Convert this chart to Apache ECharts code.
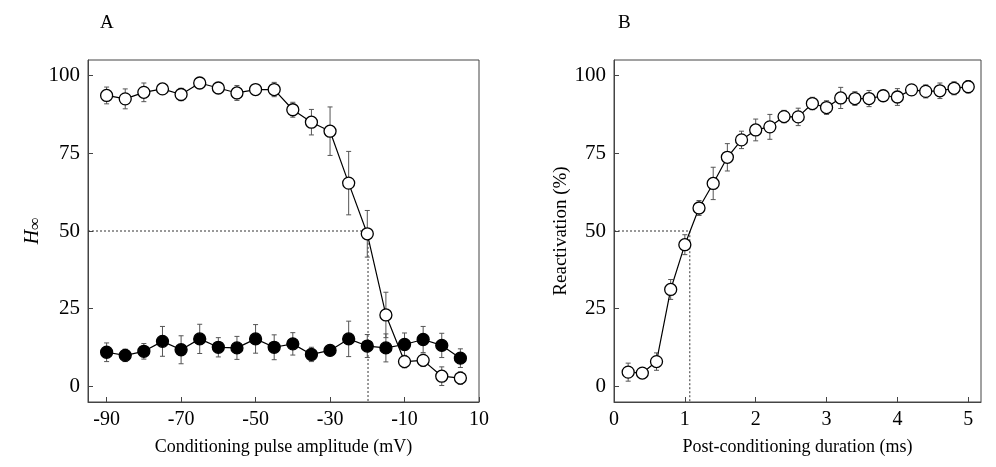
<!DOCTYPE html>
<html>
<head>
<meta charset="utf-8">
<script src="https://cdn.jsdelivr.net/npm/echarts@6/dist/echarts.min.js"></script>
<style>
  html, body { margin: 0; padding: 0; background: #fff; }
  #chart { width: 996px; height: 467px; }
</style>
</head>
<body>
<div id="chart"></div>
<script>
// panel A: conditioning pulse amplitude (mV)
var xA = [-90, -85, -80, -75, -70, -65, -60, -55, -50, -45, -40, -35, -30, -25, -20, -15, -10, -5, 0, 5];
var openA = [93.6, 92.5, 94.6, 95.7, 93.9, 97.6, 96.0, 94.4, 95.5, 95.5, 89.0, 85.0, 82.1, 65.4, 49.1, 23.0, 8.0, 8.4, 3.3, 2.7];
var openErrA = [2.7, 3.2, 3, 0.8, 2, 0.8, 0.8, 2.4, 0.8, 2.3, 2.4, 4.1, 7.8, 10.2, 7.5, 7.3, 2, 2, 3, 2];
var filledA = [11.0, 10.0, 11.3, 14.5, 11.8, 15.3, 12.6, 12.4, 15.3, 12.6, 13.7, 10.3, 11.6, 15.3, 13.0, 12.4, 13.5, 15.1, 13.2, 9.1];
var filledErrA = [3, 2, 2.5, 4.8, 4.5, 4.7, 3.1, 3.7, 4.6, 4, 3.6, 2.3, 1.2, 5.7, 3.7, 4.5, 3.7, 4.2, 3.9, 3];
var refXA = [-95, -19.8, -19.8];
var refYA = [50, 50, -5];
var xTicksA = [-90, -70, -50, -30, -10, 10];

// panel B: post-conditioning duration (ms)
var xB = [0.2, 0.4, 0.6, 0.8, 1.0, 1.2, 1.4, 1.6, 1.8, 2.0, 2.2, 2.4, 2.6, 2.8, 3.0, 3.2, 3.4, 3.6, 3.8, 4.0, 4.2, 4.4, 4.6, 4.8, 5.0];
var valB = [4.6, 4.3, 8.0, 31.2, 45.6, 57.4, 65.3, 73.7, 79.3, 82.5, 83.5, 86.8, 86.7, 91.0, 89.7, 92.8, 92.6, 92.6, 93.5, 93.1, 95.4, 94.9, 95.1, 95.9, 96.4];
var errB = [2.9, 1, 2.8, 3.2, 3.2, 2.4, 5.2, 4.4, 2.8, 3.5, 4, 2, 2.8, 2, 2.2, 3.4, 2.2, 2.6, 1, 2.7, 1.7, 2.1, 2.5, 2.1, 2];
var refXB = [0, 1.07, 1.07];
var refYB = [50, 50, -5];
var xTicksB = [0, 1, 2, 3, 4, 5];

var yTicks = [0, 25, 50, 75, 100];

var font = "'Liberation Serif', 'Times New Roman', serif";

function zip(xs, ys, es) {
    return xs.map(function (x, i) {
        return es ? [x, ys[i], es[i]] : [x, ys[i]];
    });
}

// error bars with small caps
function errRender(params, api) {
    var x = api.value(0), y = api.value(1), e = api.value(2);
    var top = api.coord([x, y + e]);
    var bot = api.coord([x, y - e]);
    var cap = 2.5;
    var st = { stroke: '#555', lineWidth: 1 };
    return {
        type: 'group',
        children: [
            { type: 'line', shape: { x1: top[0], y1: top[1], x2: bot[0], y2: bot[1] }, style: st },
            { type: 'line', shape: { x1: top[0] - cap, y1: top[1], x2: top[0] + cap, y2: top[1] }, style: st },
            { type: 'line', shape: { x1: bot[0] - cap, y1: bot[1], x2: bot[0] + cap, y2: bot[1] }, style: st }
        ]
    };
}

function xAxisCfg(idx, min, max, ticks, name) {
    return {
        type: 'value', gridIndex: idx, min: min, max: max,
        splitLine: { show: false },
        axisLine: { onZero: false, lineStyle: { color: '#444', width: 1 } },
        axisTick: { inside: true, length: 5, customValues: ticks, lineStyle: { color: '#444' } },
        axisLabel: { customValues: ticks, color: '#000', fontFamily: font, fontSize: 20, margin: 8 },
        name: name, nameLocation: 'middle', nameGap: 36,
        nameTextStyle: { color: '#000', fontFamily: font, fontSize: 18 }
    };
}

function yAxisCfg(idx, name, gap, rich) {
    var cfg = {
        type: 'value', gridIndex: idx, min: -5, max: 105,
        splitLine: { show: false },
        axisLine: { onZero: false, lineStyle: { color: '#444', width: 1 } },
        axisTick: { inside: true, length: 5, customValues: yTicks, lineStyle: { color: '#444' } },
        axisLabel: { customValues: yTicks, color: '#000', fontFamily: font, fontSize: 21, margin: 8 },
        name: name, nameLocation: 'middle', nameGap: gap,
        nameTextStyle: { color: '#000', fontFamily: font, fontSize: 19 }
    };
    if (rich) cfg.nameTextStyle.rich = rich;
    return cfg;
}

function circleLine(xi, yi, data, fill) {
    return {
        type: 'line', xAxisIndex: xi, yAxisIndex: yi, data: data,
        symbol: 'circle', symbolSize: 12, z: 3,
        lineStyle: { color: '#000', width: 1.2 },
        itemStyle: { color: fill, borderColor: '#000', borderWidth: 1.3 },
        animation: false
    };
}

function errSeries(xi, yi, data) {
    return {
        type: 'custom', xAxisIndex: xi, yAxisIndex: yi, data: data,
        renderItem: errRender, z: 1, animation: false
    };
}

function refSeries(xi, yi, data) {
    return {
        type: 'line', xAxisIndex: xi, yAxisIndex: yi, data: data,
        symbol: 'none', z: 0,
        lineStyle: { color: '#333', width: 1, type: [2, 2] },
        animation: false
    };
}

var myChart = echarts.init(document.getElementById('chart'));

var option = {
    backgroundColor: '#fff',
    animation: false,
    title: [
        { text: 'A', left: 95, top: 9, textStyle: { fontFamily: font, fontSize: 19, fontWeight: 'normal', color: '#000' } },
        { text: 'B', left: 613, top: 9, textStyle: { fontFamily: font, fontSize: 19, fontWeight: 'normal', color: '#000' } }
    ],
    grid: [
        { left: 88, top: 60, width: 391, height: 342, show: true, borderColor: '#444', borderWidth: 1 },
        { left: 614, top: 60, width: 367, height: 342, show: true, borderColor: '#444', borderWidth: 1 }
    ],
    xAxis: [
        xAxisCfg(0, -95, 10, xTicksA, 'Conditioning pulse amplitude (mV)'),
        xAxisCfg(1, 0, 5.18, xTicksB, 'Post-conditioning duration (ms)')
    ],
    yAxis: [
        yAxisCfg(0, '{i|H}{s|∞}', 44, {
            i: { fontFamily: font, fontStyle: 'italic', fontSize: 20, color: '#000' },
            s: { fontFamily: font, fontStyle: 'italic', fontSize: 17, color: '#000', padding: [6, 0, 0, 0] }
        }),
        yAxisCfg(1, 'Reactivation (%)', 27)
    ],
    series: [
        refSeries(0, 0, zip(refXA, refYA)),
        refSeries(1, 1, zip(refXB, refYB)),
        errSeries(0, 0, zip(xA, openA, openErrA)),
        errSeries(0, 0, zip(xA, filledA, filledErrA)),
        errSeries(1, 1, zip(xB, valB, errB)),
        circleLine(0, 0, zip(xA, openA), '#fff'),
        circleLine(0, 0, zip(xA, filledA), '#000'),
        circleLine(1, 1, zip(xB, valB), '#fff')
    ]
};

myChart.setOption(option);
</script>
</body>
</html>
